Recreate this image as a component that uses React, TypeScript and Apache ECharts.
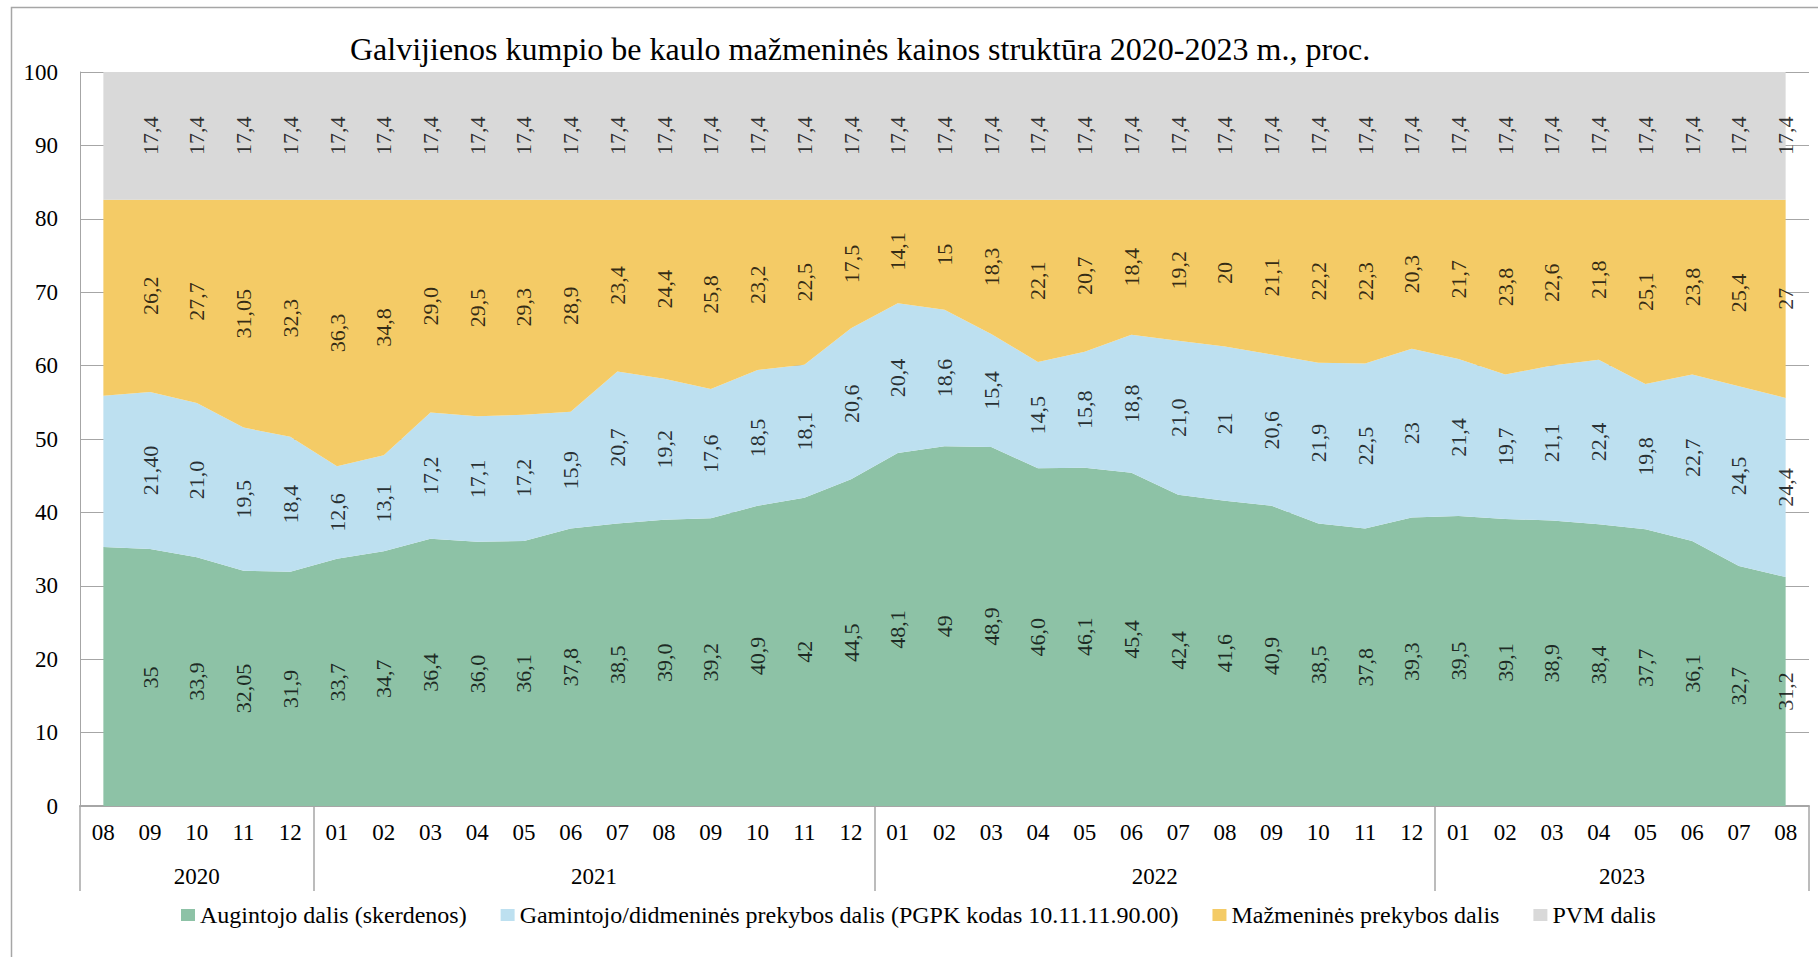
import React, { useEffect, useRef } from "react";
import * as echarts from "echarts";

const FONT = "'Liberation Serif', 'Times New Roman', serif";

const title = "Galvijienos kumpio be kaulo mažmeninės kainos struktūra 2020-2023 m., proc.";

const months = [
  "08", "09", "10", "11", "12",
  "01", "02", "03", "04", "05", "06", "07", "08", "09", "10", "11", "12",
  "01", "02", "03", "04", "05", "06", "07", "08", "09", "10", "11", "12",
  "01", "02", "03", "04", "05", "06", "07", "08",
];
const years = ["2020", "2021", "2022", "2023"];
const monthsPerYear = [5, 12, 12, 8];

// values as printed on the chart (first point carries no printed label)
const unlabeledPoints = [0];

const augintojo = [
  "35,3", "35", "33,9", "32,05", "31,9",
  "33,7", "34,7", "36,4", "36,0", "36,1", "37,8", "38,5", "39,0", "39,2", "40,9", "42", "44,5",
  "48,1", "49", "48,9", "46,0", "46,1", "45,4", "42,4", "41,6", "40,9", "38,5", "37,8", "39,3",
  "39,5", "39,1", "38,9", "38,4", "37,7", "36,1", "32,7", "31,2",
];
const gamintojo = [
  "20,6", "21,40", "21,0", "19,5", "18,4",
  "12,6", "13,1", "17,2", "17,1", "17,2", "15,9", "20,7", "19,2", "17,6", "18,5", "18,1", "20,6",
  "20,4", "18,6", "15,4", "14,5", "15,8", "18,8", "21,0", "21", "20,6", "21,9", "22,5", "23",
  "21,4", "19,7", "21,1", "22,4", "19,8", "22,7", "24,5", "24,4",
];
const mazmenines = [
  "26,7", "26,2", "27,7", "31,05", "32,3",
  "36,3", "34,8", "29,0", "29,5", "29,3", "28,9", "23,4", "24,4", "25,8", "23,2", "22,5", "17,5",
  "14,1", "15", "18,3", "22,1", "20,7", "18,4", "19,2", "20", "21,1", "22,2", "22,3", "20,3",
  "21,7", "23,8", "22,6", "21,8", "25,1", "23,8", "25,4", "27",
];
const pvm = [
  "17,4", "17,4", "17,4", "17,4", "17,4",
  "17,4", "17,4", "17,4", "17,4", "17,4", "17,4", "17,4", "17,4", "17,4", "17,4", "17,4", "17,4",
  "17,4", "17,4", "17,4", "17,4", "17,4", "17,4", "17,4", "17,4", "17,4", "17,4", "17,4", "17,4",
  "17,4", "17,4", "17,4", "17,4", "17,4", "17,4", "17,4", "17,4",
];

const seriesNames = [
  "Augintojo dalis (skerdenos)",
  "Gamintojo/didmeninės prekybos dalis (PGPK kodas 10.11.11.90.00)",
  "Mažmeninės prekybos dalis",
  "PVM dalis",
];
const seriesColors = ["#8DC2A6", "#BDE0F0", "#F4CB66", "#D9D9D9"];
const seriesTexts = [augintojo, gamintojo, mazmenines, pvm];

const yTicks = { min: 0, max: 100, interval: 10 };

const num = (s: string) => parseFloat(s.replace(",", "."));

export default function App() {
  const ref = useRef<HTMLDivElement>(null);

  useEffect(() => {
    if (!ref.current) return;
    const chart = echarts.init(ref.current, null, { renderer: "svg" });

    const values = seriesTexts.map((arr) => arr.map(num));

    // year boundaries and centres in month units
    const bounds: number[] = [0];
    monthsPerYear.forEach((n) => bounds.push(bounds[bounds.length - 1] + n));
    const centers = years.map((_, i) => (bounds[i] + bounds[i + 1]) / 2);

    const areaSeries = values.map((vals, k) => ({
      name: seriesNames[k],
      type: "line",
      stack: "total",
      data: vals,
      symbol: "none",
      lineStyle: { width: 0 },
      areaStyle: { color: seriesColors[k], opacity: 1 },
      itemStyle: { color: seriesColors[k] },
      z: 2,
    }));

    const labelData: any[] = [];
    values.forEach((vals, k) => {
      vals.forEach((v, i) => {
        if (unlabeledPoints.includes(i)) return;
        let base = 0;
        for (let j = 0; j < k; j++) base += values[j][i];
        labelData.push({ value: [i, base + v / 2], txt: seriesTexts[k][i] });
      });
    });

    const labelSeries = {
      name: "labels",
      type: "scatter",
      data: labelData,
      symbolSize: 1,
      itemStyle: { color: "rgba(0,0,0,0)" },
      silent: true,
      z: 5,
      label: {
        show: true,
        position: "inside",
        rotate: 90,
        formatter: (p: any) => p.data.txt,
        fontFamily: FONT,
        fontSize: 22,
        color: "#000",
      },
    };

    chart.setOption({
      animation: false,
      backgroundColor: "#fff",
      title: {
        text: title,
        left: 345,
        top: 28,
        textStyle: { fontFamily: FONT, fontSize: 32, fontWeight: "normal", color: "#000" },
      },
      legend: {
        data: seriesNames,
        left: 176,
        top: 898,
        icon: "rect",
        itemWidth: 14,
        itemHeight: 12,
        itemGap: 34,
        textStyle: { fontFamily: FONT, fontSize: 24, color: "#000" },
      },
      grid: { left: 80, right: 9, top: 72, bottom: 151, containLabel: false, outerBoundsMode: "none" },
      xAxis: [
        {
          type: "category",
          data: months,
          boundaryGap: true,
          position: "bottom",
          axisLine: { show: true, lineStyle: { color: "#a6a6a6", width: 2 } },
          axisTick: { show: false },
          axisLabel: { interval: 0, margin: 15, fontFamily: FONT, fontSize: 23, color: "#000" },
          splitLine: { show: false },
        },
        {
          type: "value",
          min: 0,
          max: bounds[bounds.length - 1],
          position: "bottom",
          axisLine: { show: false },
          splitLine: { show: false },
          axisTick: {
            show: true,
            length: 85,
            customValues: bounds,
            lineStyle: { color: "#a6a6a6", width: 1.5 },
          },
          axisLabel: {
            show: true,
            customValues: centers,
            margin: 59,
            fontFamily: FONT,
            fontSize: 23,
            color: "#000",
            formatter: (v: number) => {
              const i = centers.findIndex((c) => Math.abs(c - v) < 1e-6);
              return i >= 0 ? years[i] : "";
            },
          },
        },
      ],
      yAxis: {
        type: "value",
        min: yTicks.min,
        max: yTicks.max,
        interval: yTicks.interval,
        axisLine: { show: true, lineStyle: { color: "#a6a6a6", width: 1 } },
        axisTick: { show: false },
        axisLabel: { margin: 22, fontFamily: FONT, fontSize: 23, color: "#000" },
        splitLine: { show: true, lineStyle: { color: "#a6a6a6", width: 1 } },
      },
      graphic: [
        {
          type: "rect",
          left: 9,
          top: 5,
          shape: { width: 1840, height: 1000 },
          style: { fill: "none", stroke: "#a6a6a6", lineWidth: 1.5 },
          silent: true,
        },
      ],
      series: [...areaSeries, labelSeries],
    });

    return () => chart.dispose();
  }, []);

  return (
    <div
      ref={ref}
      style={{ position: "absolute", left: 0, top: 0, width: 1818, height: 957 }}
    />
  );
}
